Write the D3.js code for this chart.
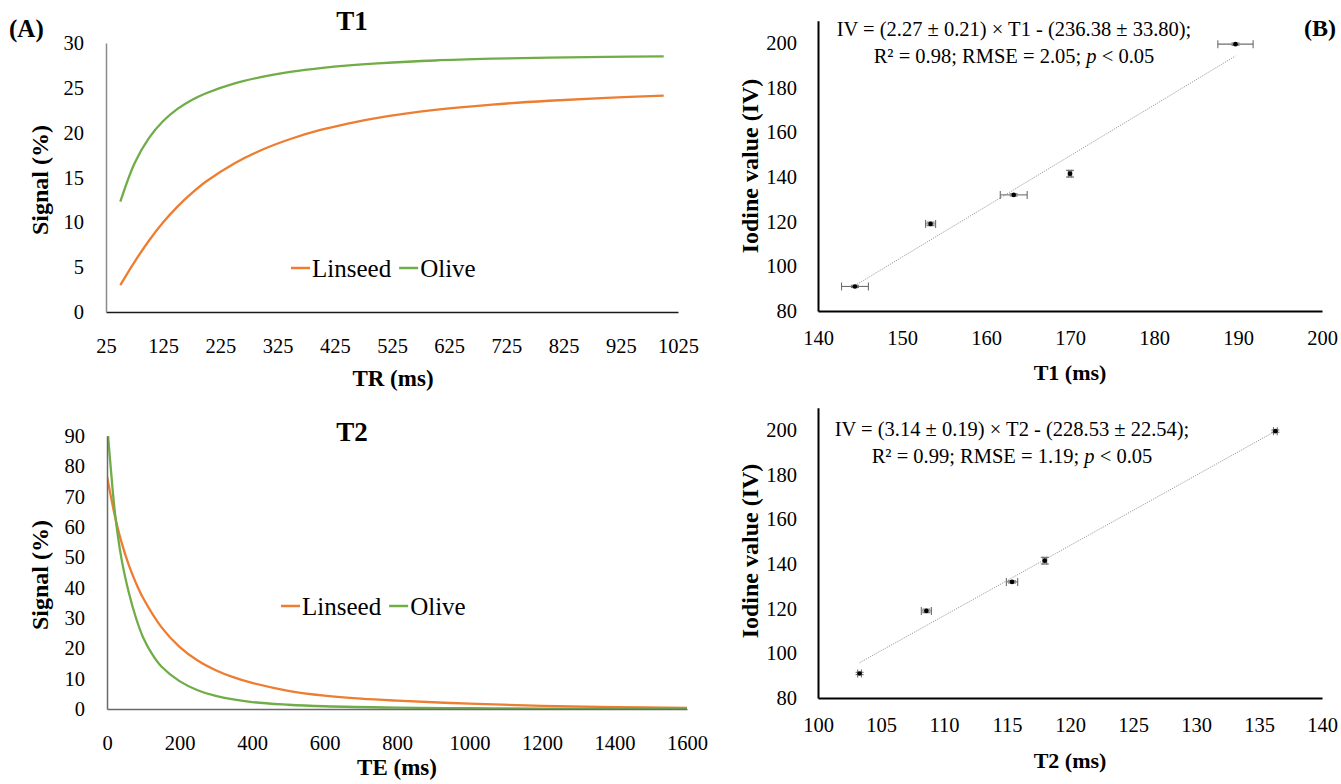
<!DOCTYPE html>
<html><head><meta charset="utf-8">
<script src="https://cdn.jsdelivr.net/npm/d3@7"></script>
<style>
body{margin:0;background:#fff;}
svg{display:block;}
text{font-family:"Liberation Serif","Times New Roman",serif;fill:#000;}
</style></head><body>
<svg id="c" width="1341" height="784"></svg>
<script>
// ---------- data ----------
const seriesNames = ["Linseed", "Olive"];
const seriesColors = ["#ED7D31", "#70AD47"];

// Panel A, T1 (saturation recovery)
const t1TR      = [50, 75, 100, 125, 150, 175, 200, 250, 300, 350, 400, 450, 500, 600, 700, 800, 900, 1000];
const t1Linseed = [3.0, 5.6, 7.95, 10.0, 11.75, 13.25, 14.55, 16.6, 18.15, 19.35, 20.3, 21.05, 21.65, 22.53, 23.13, 23.56, 23.88, 24.13];
const t1Olive   = [12.3, 16.6, 19.4, 21.3, 22.65, 23.65, 24.4, 25.5, 26.25, 26.8, 27.2, 27.5, 27.72, 28.05, 28.25, 28.38, 28.46, 28.51];
const t1XTicks  = [25, 125, 225, 325, 425, 525, 625, 725, 825, 925, 1025];
const t1YTicks  = [0, 5, 10, 15, 20, 25, 30];

// Panel A, T2 (decay)
const t2LinseedTE = [0, 10, 22, 40, 60, 80, 100, 150, 200, 250, 300, 350, 400, 500, 600, 700, 800, 1000, 1200, 1400, 1600];
const t2Linseed   = [76.7, 70.5, 63.5, 55, 47.5, 41.5, 36.5, 27, 20.5, 16, 12.8, 10.4, 8.6, 6.0, 4.4, 3.4, 2.75, 1.75, 1.05, 0.65, 0.4];
const t2OliveTE   = [3, 10, 22, 40, 60, 80, 100, 125, 150, 200, 250, 300, 400, 500, 600, 800, 1000, 1200, 1600];
const t2Olive     = [90, 80, 64.6, 49.5, 38.5, 30, 23.5, 18, 14, 9.2, 6.2, 4.3, 2.3, 1.4, 0.9, 0.45, 0.25, 0.15, 0.08];
const t2XTicks    = [0, 200, 400, 600, 800, 1000, 1200, 1400, 1600];
const t2YTicks    = [0, 10, 20, 30, 40, 50, 60, 70, 80, 90];

// Panel B, iodine value regressions
const ivValues = [91, 119, 132, 141.5, 199.5];
const ivErr    = [0.5, 0.8, 0.5, 1.5, 0.5];
const t1Values = [144.4, 153.4, 163.3, 170.0, 189.7];
const t1Err    = [1.6, 0.6, 1.6, 0.2, 2.1];
const t2Values = [103.3, 108.6, 115.4, 118.0, 136.3];
const t2Err    = [0.15, 0.4, 0.45, 0.15, 0.15];
const t1Trend  = [[144.4, 91.4], [189.7, 194.2]];
const t2Trend  = [[103.3, 95.8], [136.3, 199.5]];
const ivYTicks = [80, 100, 120, 140, 160, 180, 200];
const bT1XTicks = [140, 150, 160, 170, 180, 190, 200];
const bT2XTicks = [100, 105, 110, 115, 120, 125, 130, 135, 140];
const eqT1 = ["IV = (2.27 ± 0.21) \u00D7 T1 - (236.38 ± 33.80);", "R² = 0.98; RMSE = 2.05; ", "p", " < 0.05"];
const eqT2 = ["IV = (3.14 ± 0.19) \u00D7 T2 - (228.53 ± 22.54);", "R² = 0.99; RMSE = 1.19; ", "p", " < 0.05"];

// ---------- drawing ----------
const svg = d3.select("#c");
const TICK_FS = 20.5;

function axes(g, x, y, xTicks, yTicks, opt) {
  const ax = g.append("g").attr("transform", `translate(0,${y.range()[0]})`)
    .call(d3.axisBottom(x).tickValues(xTicks).tickSize(0).tickSizeOuter(0).tickPadding(opt.xPad).tickFormat(d3.format("d")));
  ax.select(".domain").attr("stroke", opt.xColor).attr("stroke-width", opt.sw);
  ax.selectAll("text").attr("font-size", TICK_FS).attr("font-family", "Liberation Serif").attr("fill", "#000");
  const ay = g.append("g").attr("transform", `translate(${x.range()[0]},0)`)
    .call(d3.axisLeft(y).tickValues(yTicks).tickSize(0).tickSizeOuter(0).tickPadding(opt.yPad).tickFormat(d3.format("d")));
  ay.select(".domain").attr("stroke", opt.yColor).attr("stroke-width", opt.sw);
  ay.selectAll("text").attr("font-size", TICK_FS).attr("font-family", "Liberation Serif").attr("fill", "#000");
}

function label(txt, x, y, size, rot, anchor) {
  const t = svg.append("text").attr("x", x).attr("y", y).attr("font-size", size)
    .attr("font-weight", "bold").attr("text-anchor", anchor || "middle").attr("dy", "0.35em").text(txt);
  if (rot) t.attr("transform", `rotate(${rot},${x},${y})`);
  return t;
}

function legend(x0, y0) {
  let x = x0;
  seriesNames.forEach((n, i) => {
    svg.append("line").attr("x1", x).attr("x2", x + 19).attr("y1", y0).attr("y2", y0)
      .attr("stroke", seriesColors[i]).attr("stroke-width", 2.5);
    const t = svg.append("text").attr("x", x + 21).attr("y", y0).attr("dy", "0.35em")
      .attr("font-size", 25).text(n);
    x += 21 + t.node().getComputedTextLength() + 8;
  });
}

function curvePanel(cfg) {
  const g = svg.append("g");
  const x = d3.scaleLinear().domain(cfg.xDomain).range(cfg.xRange);
  const y = d3.scaleLinear().domain(cfg.yDomain).range(cfg.yRange);
  const clipId = "clip" + cfg.id;
  svg.append("clipPath").attr("id", clipId).append("rect")
    .attr("x", cfg.xRange[0]).attr("y", cfg.yRange[1]).attr("width", cfg.xRange[1] - cfg.xRange[0] + 10)
    .attr("height", cfg.yRange[0] - cfg.yRange[1]);
  const line = d3.line().x(d => x(d[0])).y(d => y(d[1])).curve(d3.curveCatmullRom.alpha(0.5));
  cfg.series.forEach((s, i) => {
    g.append("path").datum(s.xs.map((v, k) => [v, s.ys[k]]))
      .attr("d", line).attr("fill", "none").attr("stroke", seriesColors[i])
      .attr("stroke-width", 2.3).attr("clip-path", `url(#${clipId})`);
  });
  axes(g, x, y, cfg.xTicks, cfg.yTicks, {xPad: 26, yPad: 22, xColor: cfg.xAxisColor, yColor: cfg.yAxisColor, sw: 1.5});
}

function scatterPanel(cfg) {
  const g = svg.append("g");
  const x = d3.scaleLinear().domain(cfg.xDomain).range(cfg.xRange);
  const y = d3.scaleLinear().domain(cfg.yDomain).range(cfg.yRange);
  g.append("line")
    .attr("x1", x(cfg.trend[0][0])).attr("y1", y(cfg.trend[0][1]))
    .attr("x2", x(cfg.trend[1][0])).attr("y2", y(cfg.trend[1][1]))
    .attr("stroke", "#9a9a9a").attr("stroke-width", 1).attr("stroke-dasharray", "1.2,1.2");
  const cap = 4;
  cfg.xs.forEach((xv, i) => {
    const cx = x(xv), cy = y(ivValues[i]);
    const x1 = x(xv - cfg.xErr[i]), x2 = x(xv + cfg.xErr[i]);
    const y1 = y(ivValues[i] - ivErr[i]), y2 = y(ivValues[i] + ivErr[i]);
    const eb = g.append("g").attr("stroke", "#6f6f6f").attr("stroke-width", 1.1);
    eb.append("line").attr("x1", x1).attr("x2", x2).attr("y1", cy).attr("y2", cy);
    eb.append("line").attr("x1", x1).attr("x2", x1).attr("y1", cy - cap).attr("y2", cy + cap);
    eb.append("line").attr("x1", x2).attr("x2", x2).attr("y1", cy - cap).attr("y2", cy + cap);
    eb.append("line").attr("x1", cx).attr("x2", cx).attr("y1", y1).attr("y2", y2);
    eb.append("line").attr("x1", cx - cap).attr("x2", cx + cap).attr("y1", y1).attr("y2", y1);
    eb.append("line").attr("x1", cx - cap).attr("x2", cx + cap).attr("y1", y2).attr("y2", y2);
    g.append("circle").attr("cx", cx).attr("cy", cy).attr("r", 2.3).attr("fill", "#000");
  });
  axes(g, x, y, cfg.xTicks, ivYTicks, {xPad: 19, yPad: 21, xColor: "#000", yColor: "#000", sw: 2});
  const eq = cfg.eq;
  svg.append("text").attr("x", cfg.eqX).attr("y", cfg.eqY).attr("dy", "0.35em")
    .attr("text-anchor", "middle").attr("font-size", 20.5).text(eq[0]);
  const t2 = svg.append("text").attr("x", cfg.eqX).attr("y", cfg.eqY + 27).attr("dy", "0.35em")
    .attr("text-anchor", "middle").attr("font-size", 20.5);
  t2.append("tspan").text(eq[1]);
  t2.append("tspan").attr("font-style", "italic").text(eq[2]);
  t2.append("tspan").text(eq[3]);
}

// Panel A top: T1
curvePanel({id: "a1", xDomain: [25, 1025], xRange: [106, 678], yDomain: [0, 30], yRange: [312, 43],
  xTicks: t1XTicks, yTicks: t1YTicks, xAxisColor: "#1a1a1a", yAxisColor: "#8a8a8a",
  series: [{xs: t1TR, ys: t1Linseed}, {xs: t1TR, ys: t1Olive}]});
label("T1", 352, 21, 27);
label("(A)", 9, 28, 25, 0, "start");
label("Signal (%)", 40, 180, 24, -90);
label("TR (ms)", 393, 378, 23);
legend(291, 268);

// Panel A bottom: T2
curvePanel({id: "a2", xDomain: [0, 1600], xRange: [107, 687], yDomain: [0, 90], yRange: [709, 436],
  xTicks: t2XTicks, yTicks: t2YTicks, xAxisColor: "#6a6a6a", yAxisColor: "#6a6a6a",
  series: [{xs: t2LinseedTE, ys: t2Linseed}, {xs: t2OliveTE, ys: t2Olive}]});
label("T2", 352, 432, 27);
label("Signal (%)", 40, 575, 24, -90);
label("TE (ms)", 397, 767, 23);
legend(281, 606);

// Panel B top: IV vs T1
scatterPanel({xDomain: [140, 200], xRange: [818, 1322], yDomain: [80, 210], yRange: [311, 20.7],
  xs: t1Values, xErr: t1Err, trend: t1Trend, xTicks: bT1XTicks, eq: eqT1, eqX: 1014, eqY: 29});
label("(B)", 1304, 28, 24, 0, "start");
label("Iodine value (IV)", 750, 166, 24, -90);
label("T1 (ms)", 1070, 372, 22);

// Panel B bottom: IV vs T2
scatterPanel({xDomain: [100, 140], xRange: [818, 1322], yDomain: [80, 210], yRange: [698, 407.7],
  xs: t2Values, xErr: t2Err, trend: t2Trend, xTicks: bT2XTicks, eq: eqT2, eqX: 1012, eqY: 429});
label("Iodine value (IV)", 750, 551, 24, -90);
label("T2 (ms)", 1070, 760, 22);
</script>
</body></html>
